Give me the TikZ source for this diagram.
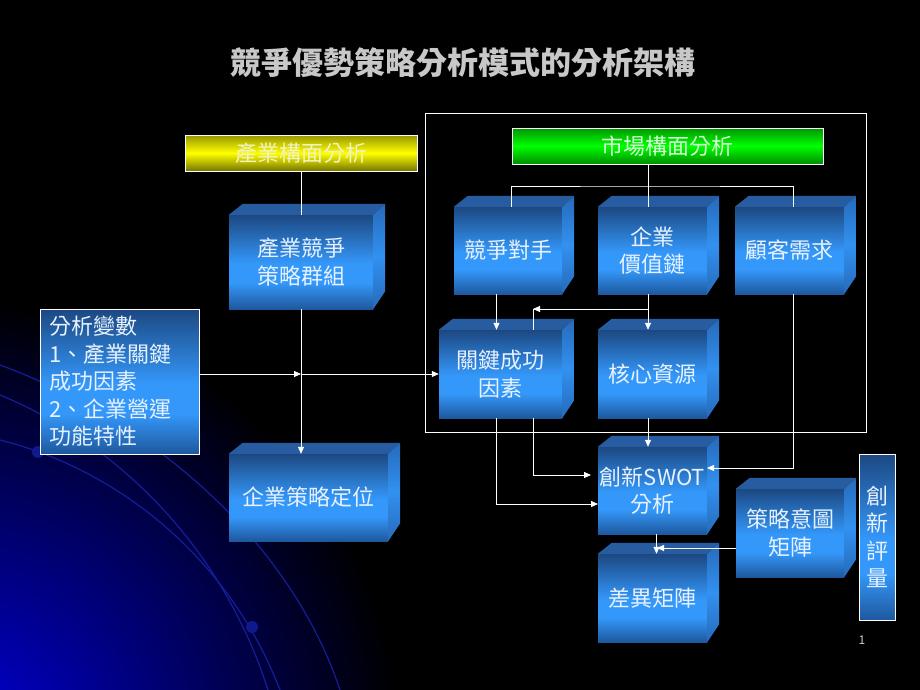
\documentclass[tikz,border=0pt]{standalone}
\usepackage{fontspec}
\setmainfont{Noto Sans CJK TC}
\usepackage{tikz}
\usetikzlibrary{arrows.meta, positioning, calc}

\definecolor{ftop}{RGB}{28,72,130}
\definecolor{flight}{RGB}{52,152,250}
\definecolor{fbot}{RGB}{30,88,158}
\definecolor{cubetopc}{RGB}{40,92,160}
\definecolor{rtop}{RGB}{38,106,186}
\definecolor{rmid}{RGB}{50,145,240}
\definecolor{txtwhite}{RGB}{232,242,255}
\definecolor{ylwtop}{RGB}{150,150,0}
\definecolor{ylwbot}{RGB}{118,118,0}
\definecolor{ylwtext}{RGB}{242,242,200}
\definecolor{grntop}{RGB}{0,150,0}
\definecolor{grnbot}{RGB}{0,140,0}
\definecolor{grntext}{RGB}{215,255,215}
\definecolor{glow}{RGB}{0,0,215}
\definecolor{arcblue}{RGB}{20,30,150}
\definecolor{dotblue}{RGB}{15,25,140}
\definecolor{titlegray}{RGB}{200,200,200}
\definecolor{pagegray}{RGB}{200,200,225}

\pgfdeclareverticalshading{cubefront}{100bp}{color(0bp)=(fbot); color(25bp)=(fbot); color(39bp)=(flight); color(49bp)=(flight); color(75bp)=(ftop); color(100bp)=(ftop)}

\newcommand{\boxfaces}[1]{%
  \fill[cubetopc] (#1.north west) -- ++(14,-11) -- ([xshift=12pt,yshift=11pt]#1.north east) -- (#1.north east) -- cycle;
  \shade[top color=rtop, bottom color=rtop, middle color=rmid] (#1.north east) -- ++(12,-11) -- ([xshift=12pt,yshift=18pt]#1.south east) -- (#1.south east) -- cycle;}

\begin{document}
\begin{tikzpicture}[
  x=1pt, y=-1pt,
  every node/.style={text=txtwhite},
  cube/.style={shade, shading=cubefront, inner sep=0pt, align=center, minimum width=109pt, minimum height=87pt, font=\fontsize{22}{27.5}\selectfont},
  panel/.style={draw=white, line width=0.8pt, inner sep=0pt, font=\fontsize{22}{27.5}\selectfont},
  wire/.style={draw=white, line width=0.8pt},
  arrowline/.style={wire, -{Triangle[length=7pt,width=6pt]}},
  arc/.style={draw=arcblue, line width=1.2pt}
]
\useasboundingbox (0,0) rectangle (920,690);

% Background
\fill[black] (0,0) rectangle (920,690);
\begin{scope}
  \clip (0,0) rectangle (920,690);
  \shade[inner color=glow, outer color=black] (-40,740) circle (440pt);
  \draw[arc] (0,440) .. controls (120,470) and (230,560) .. (280,690);
  \draw[arc] (0,395) .. controls (110,440) and (220,540) .. (268,690);
  \draw[arc] (0,365) .. controls (150,420) and (290,540) .. (340,690);
  \fill[dotblue] (38,452) circle (6pt);
  \fill[dotblue] (252,627) circle (6pt);
\end{scope}

% Title
\node[font=\fontsize{31}{36}\bfseries\selectfont, text=titlegray] (title) at (463,63) {競爭優勢策略分析模式的分析架構};

% Industry analysis
\node[panel, top color=ylwtop, bottom color=ylwbot, middle color=yellow, text=ylwtext, minimum width=232pt, minimum height=36pt] (ind) at (301,153) {產業構面分析};
\node[cube, minimum width=144pt, minimum height=94pt] (grp) at (301,262) {產業競爭\\策略群組};
\boxfaces{grp}
\node[cube, minimum width=159pt] (pos) at (308.5,497.5) {企業策略定位};
\boxfaces{pos}
\node[panel, shade, shading=cubefront, minimum width=159pt, minimum height=145pt, text width=141pt, align=left] (var) at (119.5,381.5) {分析變數\\1、產業關鍵\\成功因素\\2、企業營運\\功能特性};

% Market analysis
\draw[wire] (425,113) rectangle (866,432);
\node[panel, top color=grntop, bottom color=grnbot, middle color=green, text=grntext, minimum width=311pt, minimum height=36pt] (mkt) at (667.5,146) {市場構面分析};
\node[cube, minimum width=108pt] (comp) at (508,250.5) {競爭對手};
\boxfaces{comp}
\node[cube] (chain) at (652.5,250.5) {企業\\價值鏈};
\boxfaces{chain}
\node[cube] (cust) at (789.5,250.5) {顧客需求};
\boxfaces{cust}
\node[cube, minimum width=123pt, minimum height=88pt] (ksf) at (500.5,374) {關鍵成功\\因素};
\boxfaces{ksf}
\node[cube, minimum height=88pt] (core) at (652.5,374) {核心資源};
\boxfaces{core}

% Innovation
\node[cube] (swot) at (652.5,490.5) {創新SWOT\\分析};
\boxfaces{swot}
\node[cube, minimum height=88pt] (diff) at (652.5,598) {差異矩陣};
\boxfaces{diff}
\node[cube, minimum width=108pt, minimum height=88pt] (intent) at (790,533) {策略意圖\\矩陣};
\boxfaces{intent}
\node[panel, shade, shading=cubefront, minimum width=36pt, minimum height=166pt, align=center] (eval) at (877,537) {創\\新\\評\\量};
\node[font=\fontsize{12}{14}\selectfont, text=pagegray] (pagenum) at (862,640) {1};

% Connectors
\coordinate (mj) at (648,186);
\coordinate (kj) at (533,309);
\coordinate (s1) at (591,475);
\coordinate (s2) at (598,504);
\coordinate (s3) at (707,468);
\coordinate (dj) at (657,548);

\draw[wire] (ind) -- (grp.north);
\draw[arrowline] (var.east |- ksf) -- (grp.south |- ksf);
\draw[arrowline] (grp.south |- ksf) -- (ksf.west);
\draw[arrowline] (grp.south) -- (grp.south |- pos.north);

\draw[wire] (mkt.south -| mj) -- (mj) -- (mj |- chain.north);
\draw[wire] ([xshift=3pt]comp.north) |- (mj) -| ([xshift=3.5pt]cust.north);
\draw[arrowline] ([xshift=-11.5pt]comp.south) -- ([xshift=-4pt]ksf.north);
\draw[arrowline] (mj |- chain.south) -- (mj |- core.north);
\draw[arrowline] (mj |- chain.south) |- (kj);
\draw[wire] (kj) -- (kj |- ksf.north);

\draw[arrowline] ([xshift=-4pt]ksf.south) |- (s2);
\draw[arrowline] (kj |- ksf.south) |- (s1);
\draw[arrowline] (mj |- core.south) -- (mj |- swot.north);
\draw[arrowline] ([xshift=3.5pt]cust.south) |- (s3);
\draw[arrowline] ([xshift=4pt]swot.south) -- ([xshift=4pt]diff.north);
\draw[arrowline] (intent.west |- dj) -- (dj);

\end{tikzpicture}
\end{document}
